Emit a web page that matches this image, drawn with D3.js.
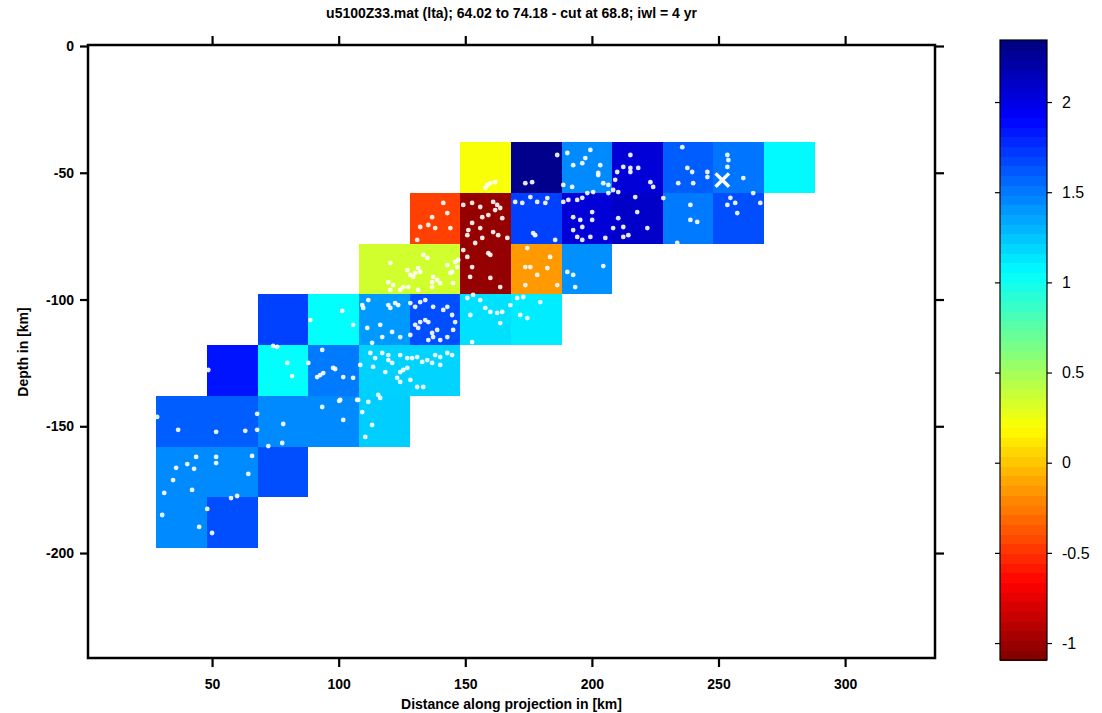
<!DOCTYPE html>
<html>
<head>
<meta charset="utf-8">
<script src="https://cdn.jsdelivr.net/npm/d3@7"></script>
<style>
body { margin: 0; background: #fff; }
text { font-family: "Liberation Sans", Arial, sans-serif; }
</style>
</head>
<body>
<div id="chart"></div>
<script>
// grid cells: left edge (km), top depth (km), value
const cellX     = [148, 168, 188, 208, 228, 248, 268,
                   128, 148, 168, 188, 208, 228, 248,
                   108, 128, 148, 168, 188,
                   68, 88, 108, 128, 148, 168,
                   48, 68, 88, 108, 128,
                   28, 48, 68, 88, 108,
                   28, 48, 68,
                   28, 48];
const cellDepth = [-38, -38, -38, -38, -38, -38, -38,
                   -58, -58, -58, -58, -58, -58, -58,
                   -78, -78, -78, -78, -78,
                   -98, -98, -98, -98, -98, -98,
                   -118, -118, -118, -118, -118,
                   -138, -138, -138, -138, -138,
                   -158, -158, -158,
                   -178, -178];
const cellValue = [0.22, 2.3, 1.45, 2.05, 1.6, 1.52, 1.07,
                   -0.45, -1.02, 1.7, 2.05, 2.1, 1.5, 1.65,
                   0.35, 0.35, -1.02, -0.15, 1.43,
                   1.7, 1.05, 1.4, 1.65, 1.16, 1.12,
                   1.85, 1.05, 1.5, 1.21, 1.2,
                   1.6, 1.6, 1.45, 1.45, 1.22,
                   1.45, 1.45, 1.65,
                   1.45, 1.65];
const cellSize = 20;

// events: [distance km, depth km]
const quakes = [
  [74.1,-118.3],[75.7,-118.7],[93.5,-119.9],[79.7,-125.0],[88.0,-125.0],[81.6,-130.2],
  [91.5,-130.6],[92.7,-129.8],[93.9,-129.0],[98.6,-127.4],[101.8,-130.6],[105.7,-130.9],
  [100.2,-140.0],[93.5,-142.4],[101.8,-147.5],[107.7,-139.6],[28.3,-146.3],[36.6,-151.4],
  [51.6,-152.2],[63.1,-151.8],[67.8,-145.1],[67.8,-151.4],[78.1,-149.1],[72.2,-157.8],
  [77.7,-156.6],[43.7,-162.1],[51.6,-162.1],[51.6,-164.5],[40.2,-164.9],[35.8,-166.4],
  [42.9,-166.8],[65.8,-161.7],[64.3,-168.8],[34.6,-171.2],[42.1,-175.1],[31.1,-176.3],
  [57.5,-178.3],[59.9,-177.5],[48.1,-182.6],[30.3,-185.0],[44.9,-189.7],[50.0,-192.1],
  [48.5,-127.8],
  [135.0,-83.6],[131.4,-87.6],[130.2,-89.5],[132.2,-89.1],[128.3,-90.3],[137.3,-91.1],
  [138.9,-92.3],[136.9,-93.1],[119.6,-93.1],[120.4,-96.2],[124.3,-96.2],[127.5,-95.1],
  [131.4,-96.2],[142.9,-86.4],[144.8,-89.1],[146.0,-85.2],[146.8,-87.2],[145.2,-93.5],
  [133.4,-82.4],[140.1,-93.5],[136.9,-95.1],[144.1,-89.5],[120.4,-85.6],[127.1,-88.4],
  [129.4,-91.1],[125.5,-95.1],[121.5,-94.3],
  [101.4,-104.5],[88.8,-108.1],[105.7,-110.0],[109.3,-102.2],[109.7,-103.3],[111.7,-100.2],
  [119.6,-102.2],[120.4,-103.3],[122.3,-101.4],[123.5,-102.2],[116.4,-110.0],[111.3,-111.2],
  [117.2,-114.8],[121.1,-112.8],[113.2,-117.1],[124.3,-114.8],[128.3,-101.4],[130.2,-102.9],
  [132.2,-101.0],[134.2,-100.2],[137.3,-102.9],[141.3,-104.1],[142.9,-102.9],[144.8,-106.1],
  [130.2,-110.0],[131.4,-111.2],[132.2,-108.9],[134.2,-108.1],[135.4,-108.9],[136.9,-113.2],
  [137.3,-114.8],[138.9,-112.0],[142.9,-114.8],[145.2,-112.0],[140.1,-116.0],[128.3,-114.0],
  [135.4,-116.0],[146.0,-108.9],[150.8,-99.4],[153.1,-98.2],[155.9,-100.2],[159.9,-104.9],
  [162.6,-105.3],[164.6,-104.9],[157.9,-103.3],[152.0,-106.1],[163.8,-109.3],[170.5,-99.4],
  [172.9,-99.0],[171.7,-106.1],[174.5,-107.3],[152.7,-116.8],[179.6,-101.0],[167.8,-102.2],
  [112.5,-121.1],[114.4,-123.1],[117.2,-121.1],[119.6,-121.9],[119.6,-123.9],[121.1,-125.0],
  [124.3,-121.9],[127.1,-123.1],[129.0,-123.1],[131.0,-122.7],[133.0,-124.6],[135.0,-123.9],
  [136.9,-125.0],[138.1,-121.9],[140.1,-122.7],[142.9,-121.1],[144.8,-121.9],[140.1,-125.8],
  [124.3,-128.6],[125.5,-127.8],[127.1,-127.0],[123.1,-130.9],[124.3,-132.5],[131.0,-134.5],
  [133.4,-134.5],[118.4,-128.6],[113.6,-126.6],[108.5,-125.8],[128.3,-131.7],[97.8,-127.0],
  [115.6,-137.6],[116.4,-138.8],[111.7,-140.4],[109.3,-144.4],[100.6,-139.6],[113.2,-149.5],
  [110.5,-154.2],[107.3,-139.6],
  [158.7,-54.8],[159.9,-54.1],[157.9,-56.0],[161.8,-53.7],[141.3,-61.9],[142.9,-65.9],
  [136.9,-67.5],[132.2,-71.4],[135.4,-70.6],[138.1,-71.8],[144.1,-71.8],[131.0,-76.5],
  [149.2,-62.7],[152.7,-61.9],[155.9,-63.5],[161.0,-61.5],[162.6,-62.7],[163.8,-63.9],
  [161.8,-64.7],[164.6,-67.9],[156.7,-67.5],[159.1,-66.7],[152.7,-69.8],[151.2,-72.6],
  [150.8,-74.6],[155.9,-71.8],[161.0,-73.4],[163.0,-74.6],[166.6,-75.7],[153.9,-77.7],
  [159.1,-81.7],[159.9,-82.4],[150.8,-83.2],[152.7,-87.2],[151.9,-91.1],[159.9,-91.5],
  [163.8,-95.1],[156.7,-75.7],[149.2,-80.5],[147.2,-84.4],
  [173.7,-54.1],[176.4,-53.7],[186.3,-43.0],[190.3,-42.2],[192.6,-47.0],[196.2,-46.2],
  [197.4,-44.2],[199.4,-41.0],[202.5,-50.9],[188.7,-54.8],[192.2,-55.6],[198.2,-58.0],
  [200.5,-57.6],[169.7,-61.5],[172.5,-61.9],[175.7,-59.6],[178.4,-61.5],[182.4,-60.0],
  [181.6,-61.9],[177.6,-74.6],[176.8,-73.8],[185.5,-76.5],[188.7,-61.5],[190.7,-60.7],
  [194.2,-60.7],[196.2,-59.9],[192.6,-67.5],[195.4,-68.6],[196.2,-71.4],[200.1,-65.5],
  [194.2,-75.3],[196.2,-76.5],[192.6,-72.6],[199.4,-75.3],[200.1,-68.6],
  [174.5,-79.7],[173.7,-87.2],[175.7,-87.2],[178.4,-90.3],[182.4,-87.6],[173.7,-94.3],
  [186.3,-94.3],[183.5,-83.2],[190.3,-89.1],[192.6,-90.3],[193.4,-95.1],[204.5,-86.8],
  [215.2,-43.0],[212.4,-47.7],[215.2,-48.1],[218.3,-48.1],[215.2,-49.7],[210.0,-49.7],
  [209.2,-52.8],[223.1,-53.7],[224.2,-55.6],[217.1,-59.6],[208.4,-56.8],[210.4,-57.6],
  [206.5,-58.0],[203.3,-47.0],[202.5,-50.1],[204.5,-54.1],[206.5,-54.8],
  [217.9,-65.5],[210.4,-67.9],[221.9,-71.8],[212.4,-71.4],[208.4,-71.8],[214.4,-74.6],
  [212.4,-75.3],[205.3,-75.7],[228.2,-60.0],
  [235.7,-39.9],[237.7,-48.1],[239.6,-49.7],[234.1,-54.1],[240.0,-54.1],[245.6,-49.7],
  [245.6,-51.7],[238.9,-62.7],[238.9,-68.6],[241.6,-69.4],[233.7,-77.7],
  [253.5,-43.0],[253.9,-45.0],[253.5,-47.7],[259.8,-52.1],[263.7,-58.0],[254.7,-59.9],
  [256.6,-61.9],[253.5,-62.7],[257.4,-65.9],[266.5,-61.9]
];
const mainShock = [[251.5, -52.9]];

const xTicks = [50, 100, 150, 200, 250, 300];
const yTicks = [0, -50, -100, -150, -200];
const cbTicks = [-1, -0.5, 0, 0.5, 1, 1.5, 2];
const cMin = -1.094, cMax = 2.344;

const width = 1102, height = 713;
const svg = d3.select("#chart").append("svg")
    .attr("width", width).attr("height", height);

const x = d3.scaleLinear().domain([1, 335.5]).range([88, 935]);
const y = d3.scaleLinear().domain([-241.4, 0]).range([658, 46]);

// matlab jet, flipped (blue = high)
function jet(t) {
    const c = v => Math.max(0, Math.min(1, v));
    const r = c(1.5 - Math.abs(4 * t - 3));
    const g = c(1.5 - Math.abs(4 * t - 2));
    const b = c(1.5 - Math.abs(4 * t - 1));
    return d3.rgb(r * 255, g * 255, b * 255).formatHex();
}
const color = v => jet(1 - (v - cMin) / (cMax - cMin));

const cells = cellValue.map((v, i) => ({x: cellX[i], d: cellDepth[i], v: v}));

svg.append("g").selectAll("rect")
    .data(cells).enter()
    .append("rect")
    .attr("x", d => x(d.x))
    .attr("y", d => y(d.d))
    .attr("width", d => x(d.x + cellSize) - x(d.x))
    .attr("height", d => y(d.d - cellSize) - y(d.d))
    .attr("fill", d => color(d.v))
    .attr("shape-rendering", "crispEdges");

// events
svg.append("g").selectAll("circle")
    .data(quakes).enter()
    .append("circle")
    .attr("cx", d => x(d[0]))
    .attr("cy", d => y(d[1]))
    .attr("r", 2.4)
    .attr("fill", "#fff")
    .attr("fill-opacity", 0.9);

svg.append("g").selectAll("path")
    .data(mainShock).enter()
    .append("path")
    .attr("d", d3.symbol().type(d3.symbolX).size(120))
    .attr("transform", d => `translate(${x(d[0])},${y(d[1])})`)
    .attr("fill", "none")
    .attr("stroke", "#fff")
    .attr("stroke-width", 3.5);

// axes
const fmt = d => String(d);
function styleAxis(g) {
    g.select(".domain").remove();
    g.selectAll(".tick line").attr("stroke", "#000").attr("stroke-width", 2.2);
    g.selectAll("text").attr("fill", "#000").attr("font-size", 14).attr("font-weight", "bold");
}
svg.append("g").attr("transform", "translate(0,658)")
    .call(d3.axisBottom(x).tickValues(xTicks).tickSize(9).tickPadding(12).tickFormat(fmt))
    .call(styleAxis);
svg.append("g").attr("transform", "translate(0,45)")
    .call(d3.axisTop(x).tickValues(xTicks).tickSize(9).tickFormat(""))
    .call(styleAxis);
svg.append("g").attr("transform", "translate(88,0)")
    .call(d3.axisLeft(y).tickValues(yTicks).tickSize(8).tickPadding(6).tickFormat(fmt))
    .call(styleAxis);
svg.append("g").attr("transform", "translate(935,0)")
    .call(d3.axisRight(y).tickValues(yTicks).tickSize(9).tickFormat(""))
    .call(styleAxis);

svg.append("rect")
    .attr("x", 88).attr("y", 45)
    .attr("width", 935 - 88).attr("height", 658 - 45)
    .attr("fill", "none").attr("stroke", "#000").attr("stroke-width", 2.5);

// labels
svg.append("text").attr("x", 511.5).attr("y", 18)
    .attr("text-anchor", "middle").attr("font-size", 14).attr("font-weight", "bold")
    .text("u5100Z33.mat (lta); 64.02 to 74.18 - cut at 68.8; iwl = 4 yr");
svg.append("text").attr("x", 511.5).attr("y", 709)
    .attr("text-anchor", "middle").attr("font-size", 14).attr("font-weight", "bold")
    .text("Distance along projection in [km]");
svg.append("text")
    .attr("transform", "translate(28,352) rotate(-90)")
    .attr("text-anchor", "middle").attr("font-size", 14).attr("font-weight", "bold")
    .text("Depth in  [km]");

// colorbar
const cbX0 = 1000, cbX1 = 1047;
const cbY = d3.scaleLinear().domain([cMin, cMax]).range([660, 40]);
const nStep = 64;
const steps = d3.range(nStep).map(i => cMin + (i + 0.5) * (cMax - cMin) / nStep);
const half = (cMax - cMin) / nStep / 2;

svg.append("g").selectAll("rect")
    .data(steps).enter()
    .append("rect")
    .attr("x", cbX0)
    .attr("y", d => cbY(d + half))
    .attr("width", cbX1 - cbX0)
    .attr("height", d => cbY(d - half) - cbY(d + half) + 0.5)
    .attr("fill", d => color(d))
    .attr("shape-rendering", "crispEdges");

svg.append("rect")
    .attr("x", cbX0).attr("y", 40)
    .attr("width", cbX1 - cbX0).attr("height", 620)
    .attr("fill", "none").attr("stroke", "#000").attr("stroke-width", 1.2);

svg.append("g").attr("transform", `translate(${cbX1},0)`)
    .call(d3.axisRight(cbY).tickValues(cbTicks).tickSize(5).tickPadding(10).tickFormat(fmt))
    .call(g => {
        g.select(".domain").remove();
        g.selectAll(".tick line").attr("stroke", "#000").attr("stroke-width", 1.2);
        g.selectAll("text").attr("fill", "#000").attr("font-size", 16);
    });
svg.append("g").attr("transform", `translate(${cbX0},0)`)
    .call(d3.axisLeft(cbY).tickValues(cbTicks).tickSize(5).tickFormat(""))
    .call(g => {
        g.select(".domain").remove();
        g.selectAll(".tick line").attr("stroke", "#000").attr("stroke-width", 1.2);
    });
</script>
</body>
</html>
